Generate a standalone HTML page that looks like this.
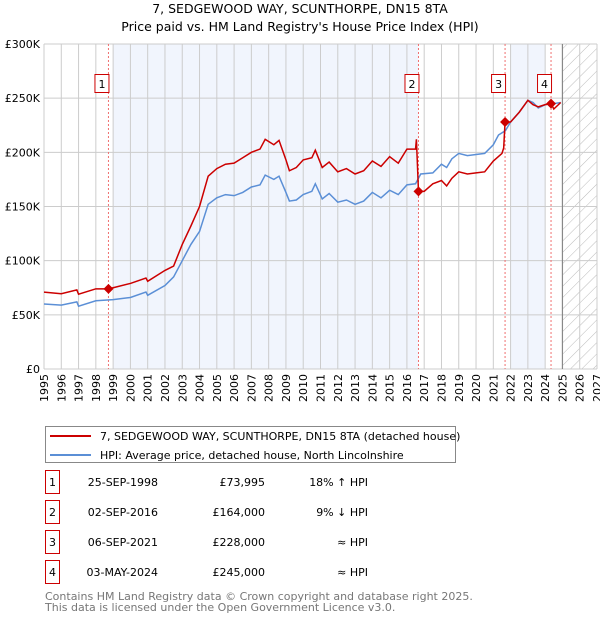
<!DOCTYPE html>
<html><head><meta charset="utf-8"><style>
body{margin:0;background:#fff;font-family:"Liberation Sans","DejaVu Sans",sans-serif;}
svg text{font-family:"DejaVu Sans","Liberation Sans",sans-serif;}
</style></head><body>
<svg id="c" width="600" height="620" xmlns="http://www.w3.org/2000/svg">
<defs><pattern id="h" width="8" height="8" patternUnits="userSpaceOnUse" patternTransform="rotate(45)"><line x1="0" y1="0" x2="0" y2="8" stroke="#bbb" stroke-width="1"/></pattern></defs>
<text x="300" y="13" text-anchor="middle" font-size="12.5" fill="#000">7, SEDGEWOOD WAY, SCUNTHORPE, DN15 8TA</text>
<text x="300" y="31" text-anchor="middle" font-size="12.5" fill="#000">Price paid vs. HM Land Registry's House Price Index (HPI)</text>
<g id="plot"></g>
<g>
<rect x="45.5" y="426.5" width="410" height="36" fill="#fff" stroke="#888"/>
<line x1="50" y1="436" x2="91" y2="436" stroke="#cc0000" stroke-width="2"/>
<text x="100" y="440" font-size="11">7, SEDGEWOOD WAY, SCUNTHORPE, DN15 8TA (detached house)</text>
<line x1="50" y1="455" x2="91" y2="455" stroke="#5b8fd6" stroke-width="2"/>
<text x="100" y="459" font-size="11">HPI: Average price, detached house, North Lincolnshire</text>
</g>
<g id="tbl" font-size="11"></g>
<text x="45" y="600" font-size="11" fill="#777">Contains HM Land Registry data © Crown copyright and database right 2025.</text>
<text x="45" y="611" font-size="11" fill="#777">This data is licensed under the Open Government Licence v3.0.</text>
</svg>
<script>
const hpiYears=[1995,1996,1996.9,1997.0,1998,1999,2000,2000.9,2001.0,2002,2002.5,2003,2003.5,2004,2004.5,2005,2005.5,2006,2006.5,2007,2007.5,2007.8,2008.3,2008.6,2009,2009.2,2009.6,2010,2010.5,2010.7,2011.1,2011.5,2012,2012.5,2013,2013.5,2014,2014.5,2015,2015.5,2016,2016.5,2016.8,2017.5,2018,2018.3,2018.6,2019,2019.5,2020,2020.5,2021,2021.3,2021.7,2022,2022.5,2023,2023.3,2023.6,2024,2024.5,2024.9];
const hpiValues=[60,59,62,58,63,64,66,71,68,77,85,100,115,127,152,158,161,160,163,168,170,179,175,178,163,155,156,161,164,171,157,162,154,156,152,155,163,158,165,161,170,171,180,181,189,186,194,199,197,198,199,207,216,220,228,237,248,246,241,244,245,246];
const priceYears=[1995,1996,1996.9,1997.0,1998,1998.73,1999,2000,2000.9,2001.0,2002,2002.5,2003,2003.5,2004,2004.5,2005,2005.5,2006,2006.5,2007,2007.5,2007.8,2008.3,2008.6,2009,2009.2,2009.6,2010,2010.5,2010.7,2011.1,2011.5,2012,2012.5,2013,2013.5,2014,2014.5,2015,2015.5,2016,2016.5,2016.55,2016.67,2017,2017.5,2018,2018.3,2018.6,2019,2019.5,2020,2020.5,2021,2021.5,2021.6,2021.68,2022,2022.5,2023,2023.3,2023.6,2024,2024.34,2024.5,2024.9];
const priceValues=[71,69.5,73,69,74,74,75,79,84,81,91,95,115,132,150,178,185,189,190,195,200,203,212,207,211,193,183,186,193,195,202,186,191,182,185,180,183,192,187,196,190,203,203,212,164,164,171,174,169,176,182,180,181,182,192,199,204,228,228,237,248,244,242,244,245,240,246];
const saleYears=[1998.73,2016.67,2021.68,2024.34];
const saleValues=[73.995,164,228,245];
const saleLabels=["1","2","3","4"];
const saleDates=["25-SEP-1998","02-SEP-2016","06-SEP-2021","03-MAY-2024"];
const salePrices=["£73,995","£164,000","£228,000","£245,000"];
const saleHpi=["18% ↑ HPI","9% ↓ HPI","≈ HPI","≈ HPI"];
const yTicks=[0,50,100,150,200,250,300];
const yTickLabels=["£0","£50K","£100K","£150K","£200K","£250K","£300K"];
const xTicks=[];for(let y=1995;y<=2027;y++)xTicks.push(y);

const L=44,R=597,T=44,B=369,x0=1995,x1=2027;
const X=v=>L+(v-x0)/(x1-x0)*(R-L);
const Y=v=>B-v/300*(B-T);
const NS="http://www.w3.org/2000/svg";
const g=document.getElementById('plot');
function mk(t,a,p){const e=document.createElementNS(NS,t);for(const k in a)e.setAttribute(k,a[k]);(p||g).appendChild(e);return e;}
let e;
e=mk('rect',{x:X(1999.0),y:T,width:X(saleYears[1])-X(1999.0),height:B-T,fill:'#eef3fd',opacity:0.8});


e=mk('rect',{x:X(2022.0),y:T,width:X(2024.0)-X(2022.0),height:B-T,fill:'#eef3fd',opacity:0.8});


e=mk('rect',{x:X(2025),y:T,width:X(2027)-X(2025),height:B-T,fill:'url(#h)'});


xTicks.forEach(t=>{e=mk('line',{x1:X(t),x2:X(t),y1:T,y2:B,stroke:'#ccc','stroke-width':1});


e=mk('text',{x:0,y:0,'font-size':11,'text-anchor':'end',transform:`translate(${X(t)+4},${B+5}) rotate(-90)`});e.textContent=t;

});
yTicks.forEach((t,i)=>{e=mk('line',{x1:L,x2:R,y1:Y(t),y2:Y(t),stroke:'#ccc','stroke-width':1});


e=mk('text',{x:L-4,y:Y(t)+4,'font-size':11,'text-anchor':'end'});e.textContent=yTickLabels[i];

});
e=mk('line',{x1:X(2025),x2:X(2025),y1:T,y2:B,stroke:'#888','stroke-width':1.2});


saleYears.forEach((s,i)=>{e=mk('line',{x1:X(s),x2:X(s),y1:T,y2:B,stroke:'#f07070','stroke-width':1,'stroke-dasharray':'2,2'});


e=mk('rect',{x:X(s)-13.5,y:74.5,width:14,height:18,fill:'#fff',stroke:'#cc0000'});


e=mk('text',{x:X(s)-6.5,y:88,'font-size':11,'text-anchor':'middle'});e.textContent=saleLabels[i];

});
e=mk('polyline',{points:hpiYears.map((y,i)=>X(y)+','+Y(hpiValues[i])).join(' '),fill:'none',stroke:'#5b8fd6','stroke-width':1.5});


e=mk('polyline',{points:priceYears.map((y,i)=>X(y)+','+Y(priceValues[i])).join(' '),fill:'none',stroke:'#cc0000','stroke-width':1.5});


saleYears.forEach((s,i)=>{const cx=X(s),cy=Y(saleValues[i]);
e=mk('polygon',{points:`${cx},${cy-5} ${cx+5},${cy} ${cx},${cy+5} ${cx-5},${cy}`,fill:'#cc0000'});

});
const tb=document.getElementById('tbl');
saleLabels.forEach((l,i)=>{const y=483+i*30;
e=mk('rect',{x:45.5,y:y-12.5,width:14,height:23,fill:'#fff',stroke:'#cc0000'},tb);


e=mk('text',{x:52.5,y:y+3,'text-anchor':'middle'},tb);e.textContent=l;


e=mk('text',{x:158,y:y+3,'text-anchor':'end'},tb);e.textContent=saleDates[i];


e=mk('text',{x:265,y:y+3,'text-anchor':'end'},tb);e.textContent=salePrices[i];


e=mk('text',{x:368,y:y+3,'text-anchor':'end'},tb);e.textContent=saleHpi[i];

});
</script>
</body></html>
